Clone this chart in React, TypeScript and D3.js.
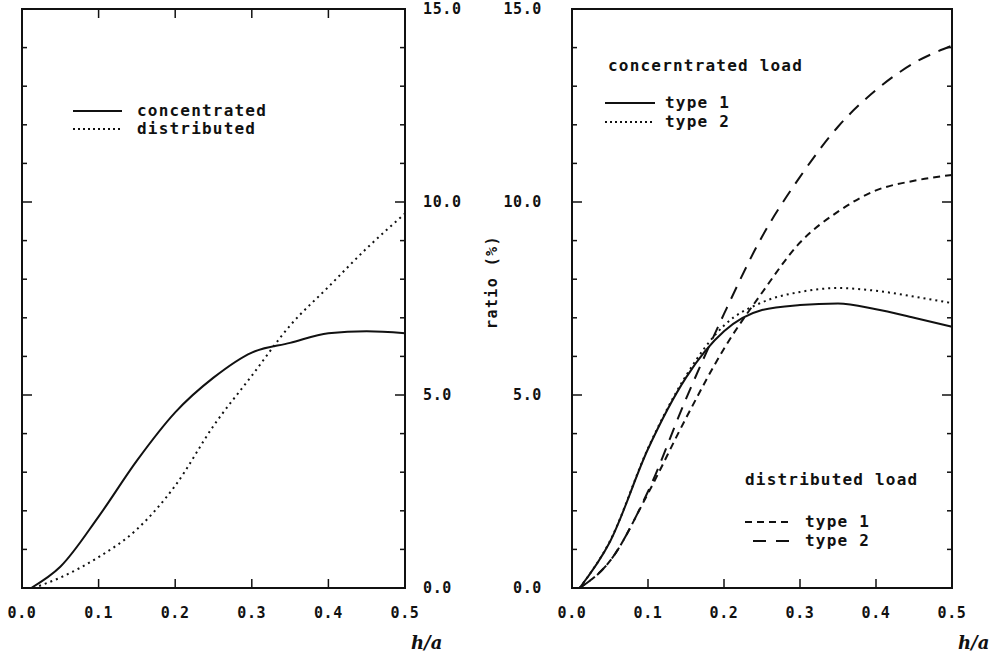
import React from 'react';
import * as d3 from 'd3';

// shared axis values
const xTickValues = [0, 0.1, 0.2, 0.3, 0.4, 0.5];
const xTickLabels = ['0.0', '0.1', '0.2', '0.3', '0.4', '0.5'];
const yLabelValues = [0, 5, 10, 15];
const yTickLabels = ['0.0', '5.0', '10.0', '15.0'];
const yMinorValues = [0, 1, 2, 3, 4, 5, 6, 7, 8, 9, 10, 11, 12, 13, 14, 15];

// left panel
const leftConcX = [0.012, 0.05, 0.1, 0.15, 0.2, 0.25, 0.3, 0.35, 0.4, 0.45, 0.5];
const leftConcY = [0, 0.55, 1.85, 3.3, 4.55, 5.45, 6.1, 6.35, 6.6, 6.65, 6.6];
const leftDistX = [0.015, 0.05, 0.1, 0.15, 0.2, 0.25, 0.3, 0.35, 0.4, 0.45, 0.5];
const leftDistY = [0, 0.27, 0.8, 1.52, 2.65, 4.2, 5.5, 6.8, 7.8, 8.8, 9.7];

// right panel
const rightX = [0.01, 0.05, 0.1, 0.15, 0.2, 0.25, 0.3, 0.35, 0.4, 0.45, 0.5];
const concType1 = [0, 1.2, 3.6, 5.45, 6.65, 7.2, 7.33, 7.37, 7.22, 7.0, 6.77];
const concType2 = [0, 1.22, 3.62, 5.5, 6.8, 7.4, 7.67, 7.77, 7.7, 7.55, 7.38];
const distType1 = [0, 0.7, 2.45, 4.4, 6.2, 7.65, 8.95, 9.75, 10.3, 10.55, 10.7];
const distType2 = [0, 0.7, 2.5, 4.9, 7.1, 9.1, 10.65, 11.95, 12.9, 13.6, 14.05];

const FONT = '"DejaVu Sans Mono", monospace';
const INK = '#111';

const SOLID = undefined;
const DOTTED = '2 4';
const SHORT = '7 5';
const LONG = '13 9';

type Series = { xs: number[]; ys: number[]; dash?: string };

const Panel = ({ left, right, top, bottom, labelSide, topTicks, series }: {
  left: number; right: number; top: number; bottom: number;
  labelSide: 'left' | 'right'; topTicks: boolean; series: Series[];
}) => {
  const x = d3.scaleLinear().domain([0, 0.5]).range([left, right]);
  const y = d3.scaleLinear().domain([0, 15]).range([bottom, top]);
  const line = d3.line<[number, number]>()
    .x(d => x(d[0]))
    .y(d => y(d[1]))
    .curve(d3.curveMonotoneX);

  return (
    <g>
      {series.map((s, i) => (
        <path key={i} d={line(s.xs.map((v, j) => [v, s.ys[j]]) as [number, number][]) || ''}
          fill="none" stroke={INK} strokeWidth={2} strokeDasharray={s.dash} />
      ))}
      <rect x={left} y={top} width={right - left} height={bottom - top}
        fill="none" stroke={INK} strokeWidth={2} />
      {yMinorValues.map(v => {
        const len = v % 5 === 0 ? 10 : 5;
        return (
          <g key={v}>
            <line x1={left} x2={left + len} y1={y(v)} y2={y(v)} stroke={INK} strokeWidth={1.5} />
            <line x1={right} x2={right - len} y1={y(v)} y2={y(v)} stroke={INK} strokeWidth={1.5} />
          </g>
        );
      })}
      {xTickValues.slice(1, -1).map(v => (
        <g key={v}>
          <line x1={x(v)} x2={x(v)} y1={bottom} y2={bottom - 9} stroke={INK} strokeWidth={1.5} />
          {topTicks && <line x1={x(v)} x2={x(v)} y1={top} y2={top + 9} stroke={INK} strokeWidth={1.5} />}
        </g>
      ))}
      {xTickValues.map((v, i) => (
        <text key={v} x={x(v)} y={bottom + 30} textAnchor="middle" fontFamily={FONT}
          fontWeight="bold" fontSize={15} letterSpacing={0.6} fill={INK}>{xTickLabels[i]}</text>
      ))}
      {yLabelValues.map((v, i) => (
        <text key={v} x={labelSide === 'right' ? right + 18 : left - 30}
          y={y(v) + 5} textAnchor={labelSide === 'right' ? 'start' : 'end'} fontFamily={FONT}
          fontWeight="bold" fontSize={15} letterSpacing={0.6} fill={INK}>{yTickLabels[i]}</text>
      ))}
      <text x={right + 6} y={bottom + 61} fontFamily='"DejaVu Serif", serif' fontStyle="italic"
        fontWeight="bold" fontSize={18} fill={INK}>h/a</text>
    </g>
  );
};

const LegendRow = ({ x1, x2, y, dash, label, tx }: {
  x1: number; x2: number; y: number; dash?: string; label: string; tx: number;
}) => (
  <g>
    <line x1={x1} x2={x2} y1={y} y2={y} stroke={INK} strokeWidth={2} strokeDasharray={dash} />
    <text x={tx} y={y + 5} fontFamily={FONT} fontWeight="bold" fontSize={16}
      letterSpacing={1.2} fill={INK}>{label}</text>
  </g>
);

export default function App() {
  return (
    <svg width={999} height={655} style={{ display: 'block', position: 'absolute', left: 0, top: 0, background: '#fff' }}>
      <Panel left={22} right={405} top={9} bottom={588} labelSide="right" topTicks
        series={[
          { xs: leftConcX, ys: leftConcY, dash: SOLID },
          { xs: leftDistX, ys: leftDistY, dash: DOTTED },
        ]} />
      <LegendRow x1={73} x2={122} y={111} label="concentrated" tx={137} />
      <LegendRow x1={73} x2={122} y={129} dash="2 3" label="distributed" tx={137} />

      <Panel left={572} right={952} top={9} bottom={588} labelSide="left" topTicks={false}
        series={[
          { xs: rightX, ys: concType1, dash: SOLID },
          { xs: rightX, ys: concType2, dash: DOTTED },
          { xs: rightX, ys: distType1, dash: SHORT },
          { xs: rightX, ys: distType2, dash: LONG },
        ]} />
      <text x={608} y={71} fontFamily={FONT} fontWeight="bold" fontSize={16}
        letterSpacing={1.2} fill={INK}>concerntrated load</text>
      <LegendRow x1={605} x2={655} y={103} label="type 1" tx={665} />
      <LegendRow x1={605} x2={655} y={122} dash="2 3" label="type 2" tx={665} />
      <text x={745} y={485} fontFamily={FONT} fontWeight="bold" fontSize={16}
        letterSpacing={1.2} fill={INK}>distributed load</text>
      <LegendRow x1={745} x2={792} y={522} dash="7 5" label="type 1" tx={805} />
      <LegendRow x1={753} x2={792} y={541} dash="13 10" label="type 2" tx={805} />

      <text transform="translate(497,282) rotate(-90)" textAnchor="middle" fontFamily={FONT}
        fontWeight="bold" fontSize={15} letterSpacing={1.4} fill={INK}>ratio  (%)</text>
    </svg>
  );
}
